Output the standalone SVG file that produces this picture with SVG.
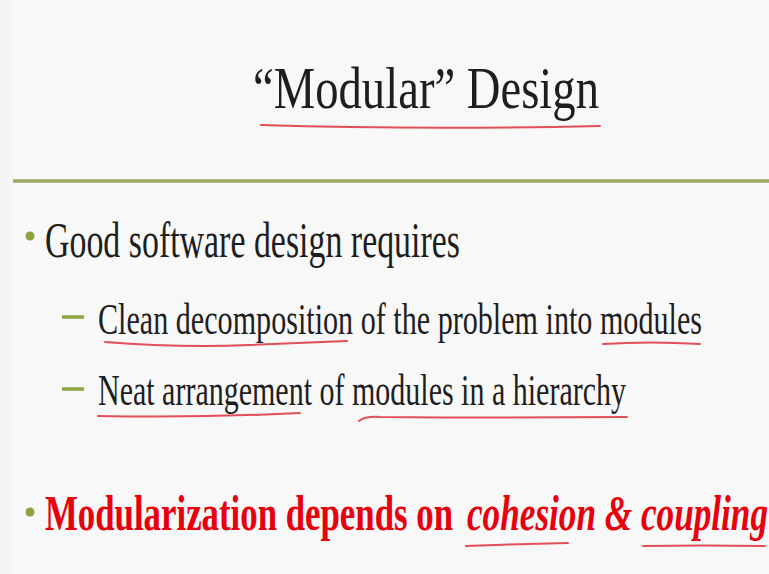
<svg xmlns="http://www.w3.org/2000/svg" width="769" height="574" viewBox="0 0 769 574">
  <style>
    .body { font-family: "Liberation Serif", "Times New Roman", serif; fill: #1e1e1e; }
    .hl { fill: none; stroke: #e0303a; stroke-width: 2; stroke-linecap: round; opacity: 0.85; }
    .dot { fill: #8ea43c; }
    .dash { stroke: #8ea43c; stroke-width: 3.5; }
    .red { font-family: "Liberation Serif", "Times New Roman", serif; fill: #e8000c; font-weight: bold; }
  </style>
  <rect width="769" height="574" fill="#f5f5f5"/>
  <rect x="13" y="0" width="756" height="574" fill="#f8f8f8"/>

  <!-- title -->
  <text class="body" x="253" y="108" font-size="60" textLength="346" lengthAdjust="spacingAndGlyphs">“Modular” Design</text>
  <path class="hl" d="M261 125 Q 420 130 600 126"/>

  <!-- rule under title -->
  <line x1="13" y1="181" x2="769" y2="181" stroke="#9aab5c" stroke-width="3.5"/>

  <!-- bullet 1 -->
  <circle class="dot" cx="30" cy="236" r="4.5"/>
  <text class="body" x="45" y="257" font-size="50" textLength="415" lengthAdjust="spacingAndGlyphs">Good software design requires</text>

  <!-- sub-bullet 1 -->
  <line class="dash" x1="62" y1="317" x2="84" y2="317"/>
  <text class="body" x="98" y="334" font-size="45" textLength="604" lengthAdjust="spacingAndGlyphs">Clean decomposition of the problem into modules</text>
  <path class="hl" d="M105 342 Q 180 348 250 345 T 347 341"/>
  <path class="hl" d="M603 344 Q 650 341 700 344"/>

  <!-- sub-bullet 2 -->
  <line class="dash" x1="62" y1="389" x2="84" y2="389"/>
  <text class="body" x="98" y="405" font-size="45" textLength="528" lengthAdjust="spacingAndGlyphs">Neat arrangement of modules in a hierarchy</text>
  <path class="hl" d="M98 416 Q 200 418 300 413"/>
  <path class="hl" d="M359 421 Q 365 416 380 417 Q 500 418 627 417"/>

  <!-- bullet 2 -->
  <circle class="dot" cx="30" cy="512" r="4.5"/>
  <text class="red" x="45" y="530" font-size="50" textLength="408" lengthAdjust="spacingAndGlyphs">Modularization depends on</text>
  <text class="red" x="467" y="530" font-size="50" font-style="italic" textLength="301" lengthAdjust="spacingAndGlyphs">cohesion &amp; coupling</text>
  <path class="hl" d="M466 546 Q 520 544 568 543"/>
  <path class="hl" d="M643 546 Q 700 545 765 546"/>
</svg>
